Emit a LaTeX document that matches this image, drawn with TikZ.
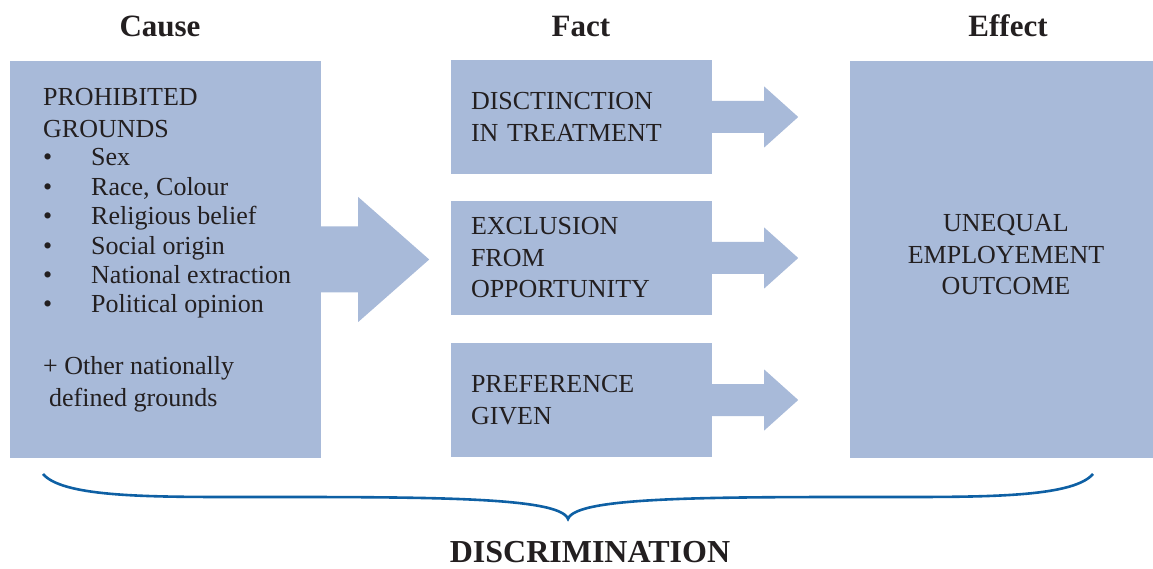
\documentclass[tikz,border=0pt]{standalone}
\usepackage{fontspec}
\setmainfont{Liberation Serif}
\usepackage{tikz}

\definecolor{boxblue}{RGB}{168,186,217}
\definecolor{braceblue}{RGB}{14,96,164}
\definecolor{inkgray}{RGB}{35,31,32}

\begin{document}
\begin{tikzpicture}[x=1pt,y=1pt,
  every node/.style={text=inkgray},
  panel/.style={fill=boxblue,inner sep=0pt},
  factbox/.style={panel,minimum width=261pt,minimum height=114pt,
    text width=221pt,inner xsep=20pt,align=left,
    font=\fontsize{26}{31.5}\selectfont},
  heading/.style={font=\fontsize{31}{36}\selectfont\bfseries,anchor=base,inner ysep=0pt},
  body/.style={font=\fontsize{26}{32}\selectfont,align=left,
    inner sep=0pt,anchor=base west}]
\useasboundingbox (0,0) rectangle (1153,568);

\node[heading] (tCause) at (160,531) {Cause};
\node[heading] (tFact) at (581,531) {Fact};
\node[heading] (tEffect) at (1008,531) {Effect};

% cause column (base anchors sit on the last line)
\node[panel,minimum width=311pt,minimum height=397pt] (cause) at (165.5,308.5) {};
\node[body] (grounds) at (43,430) {PROHIBITED\\GROUNDS};
\node[body,font=\fontsize{26}{29.4}\selectfont] (gList) at (43,255)
  {\makebox[48pt][l]{\textbullet}Sex\\
   \makebox[48pt][l]{\textbullet}Race, Colour\\
   \makebox[48pt][l]{\textbullet}Religious belief\\
   \makebox[48pt][l]{\textbullet}Social origin\\
   \makebox[48pt][l]{\textbullet}National extraction\\
   \makebox[48pt][l]{\textbullet}Political opinion};
\node[body] (gOther) at (43,162) {+ Other nationally\\\hspace*{6pt}defined grounds};

  \fill[boxblue] ([xshift=-1pt,yshift=33pt]cause.east) -- ++(38,0) -- ++(0,29.5)
    -- ++(71,-62.5) -- ++(-71,-62.5) -- ++(0,29.5) -- ++(-38,0) -- cycle;

% fact column
\node[factbox] (f1) at (581.5,451) {DISCTINCTION\\IN TREATMENT};
\node[factbox] (f2) at (581.5,310) {EXCLUSION\\FROM\\OPPORTUNITY};
\node[factbox] (f3) at (581.5,168) {PREFERENCE\\GIVEN};

  \fill[boxblue] ([xshift=-1pt,yshift=16pt]f1.east) -- ++(53,0) -- ++(0,14.5)
    -- ++(34,-30.5) -- ++(-34,-30.5) -- ++(0,14.5) -- ++(-53,0) -- cycle;
  \fill[boxblue] ([xshift=-1pt,yshift=16pt]f2.east) -- ++(53,0) -- ++(0,14.5)
    -- ++(34,-30.5) -- ++(-34,-30.5) -- ++(0,14.5) -- ++(-53,0) -- cycle;
  \fill[boxblue] ([xshift=-1pt,yshift=16pt]f3.east) -- ++(53,0) -- ++(0,14.5)
    -- ++(34,-30.5) -- ++(-34,-30.5) -- ++(0,14.5) -- ++(-53,0) -- cycle;

% effect column
\node[panel,minimum width=303pt,minimum height=397pt] (effect) at (1001.5,308.5) {};
\node[font=\fontsize{26}{31.5}\selectfont,align=center,inner sep=0pt] (outcome)
  at (1006,313) {UNEQUAL\\EMPLOYEMENT\\OUTCOME};

% brace under the three columns
\coordinate (bL) at (43,94);
\coordinate (bM) at (568,49);
\coordinate (bR) at (1093,94);
\draw[braceblue,line width=2.6pt] (bL) .. controls (62,72) and (140,71) .. (230,71)
  .. controls (420,71) and (560,72) .. (bM)
  .. controls (576,72) and (716,71) .. (906,71)
  .. controls (996,71) and (1074,72) .. (bR);

\node[heading,font=\fontsize{32}{36}\selectfont\bfseries] (disc) at (590,6) {DISCRIMINATION};

\end{tikzpicture}
\end{document}
